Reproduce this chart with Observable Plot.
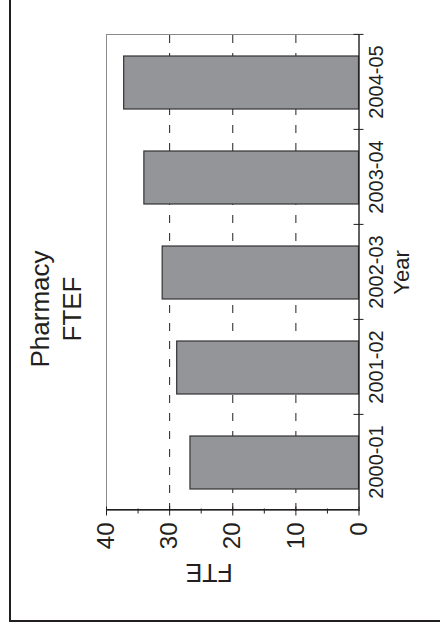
<!DOCTYPE html>
<html>
<head>
<meta charset="utf-8">
<script src="https://cdn.jsdelivr.net/npm/d3@7"></script>
<script src="https://cdn.jsdelivr.net/npm/@observablehq/plot@0.6"></script>
<style>
  html, body { margin: 0; padding: 0; background: #fff; overflow: hidden; }
  body { width: 440px; height: 628px; position: relative; font-family: "Liberation Sans", Arial, sans-serif; color: #231f20; }
  #wrap { position: absolute; left: 0; top: 0; width: 628px; height: 440px;
          transform-origin: 0 0; transform: translate(0px, 628px) rotate(-90deg); }
  #border { position: absolute; left: 6px; top: 9px; width: 622px; height: 431px; box-sizing: border-box;
            border-left: 2.5px solid #231f20; border-top: 2.5px solid #231f20; }
  #title { position: absolute; left: 0; top: 24px; width: 638px; text-align: center;
           font-size: 26px; line-height: 32px; }
  #chart { position: absolute; left: 0; top: 88px; }
  #chart svg { overflow: visible; }
</style>
</head>
<body>
<div id="wrap">
  <div id="border"></div>
  <div id="title"></div>
  <div id="chart"></div>
</div>
<script>
const years = ["2000-01", "2001-02", "2002-03", "2003-04", "2004-05"];
const fte = [26.7, 28.8, 31.1, 34.0, 37.2];
const valueTicks = [0, 10, 20, 30, 40];
const minorTicks = [5, 15, 25, 35];
const gridValues = [10, 20, 30];
const titleLines = ["Pharmacy", "FTEF"];
const xLabel = "Year";
const yLabel = "FTE";

const data = years.map((y, i) => ({year: y, fte: fte[i]}));

document.getElementById("title").innerHTML = titleLines.map(t => `<div>${t}</div>`).join("");

const W = 628, H = 352;
const mL = 117, mR = 35, mT = 18, mB = 81.5;
const step = (W - mL - mR) / years.length;
const plotW = W - mL - mR;
const ink = "#231f20";

const chart = Plot.plot({
  width: W,
  height: H,
  marginLeft: mL,
  marginRight: mR,
  marginTop: mT,
  marginBottom: mB,
  style: {fontFamily: "'Liberation Sans', Arial, sans-serif", color: ink, background: "transparent", overflow: "visible"},
  x: {domain: years, paddingInner: 0.445, paddingOuter: 0.2225, axis: null},
  y: {domain: [0, 40], axis: null},
  marks: [
    Plot.frame({stroke: "#8a8a8a", strokeWidth: 1}),
    Plot.ruleY(gridValues, {stroke: ink, strokeWidth: 1, strokeDasharray: "8,10"}),
    Plot.barY(data, {x: "year", y: "fte", fill: "#939598", stroke: "#333333", strokeWidth: 1.2}),
    Plot.ruleY([0], {stroke: ink, strokeWidth: 1.2}),
    Plot.ruleX([years[0]], {x: d => d, dx: -step / 2, stroke: ink, strokeWidth: 1.2}),
    Plot.ruleX(years, {x: d => d, dx: step / 2, stroke: ink, strokeWidth: 1, insetTop: (H - mT - mB) - 5, insetBottom: -5}),
    Plot.tickY(valueTicks, {y: d => d, stroke: ink, strokeWidth: 1, insetLeft: -4.5, insetRight: plotW - 4.5}),
    Plot.tickY(minorTicks, {y: d => d, stroke: ink, strokeWidth: 1, insetLeft: -2.5, insetRight: plotW - 2.5}),
    Plot.text(years, {x: d => d, text: d => d, frameAnchor: "bottom", lineAnchor: "top", dy: 9.5, fontSize: 20, fill: ink}),
    Plot.text(valueTicks, {y: d => d, text: d => String(d), frameAnchor: "left", textAnchor: "end", dx: -12, fontSize: 24, fill: ink}),
    Plot.text([xLabel], {text: d => d, frameAnchor: "bottom", lineAnchor: "top", dy: 34.5, fontSize: 22, fill: ink}),
    Plot.text([yLabel], {text: d => d, frameAnchor: "left", rotate: -90, lineAnchor: "top", dx: -71, fontSize: 25, fill: ink})
  ]
});
document.getElementById("chart").appendChild(chart);
</script>
</body>
</html>
